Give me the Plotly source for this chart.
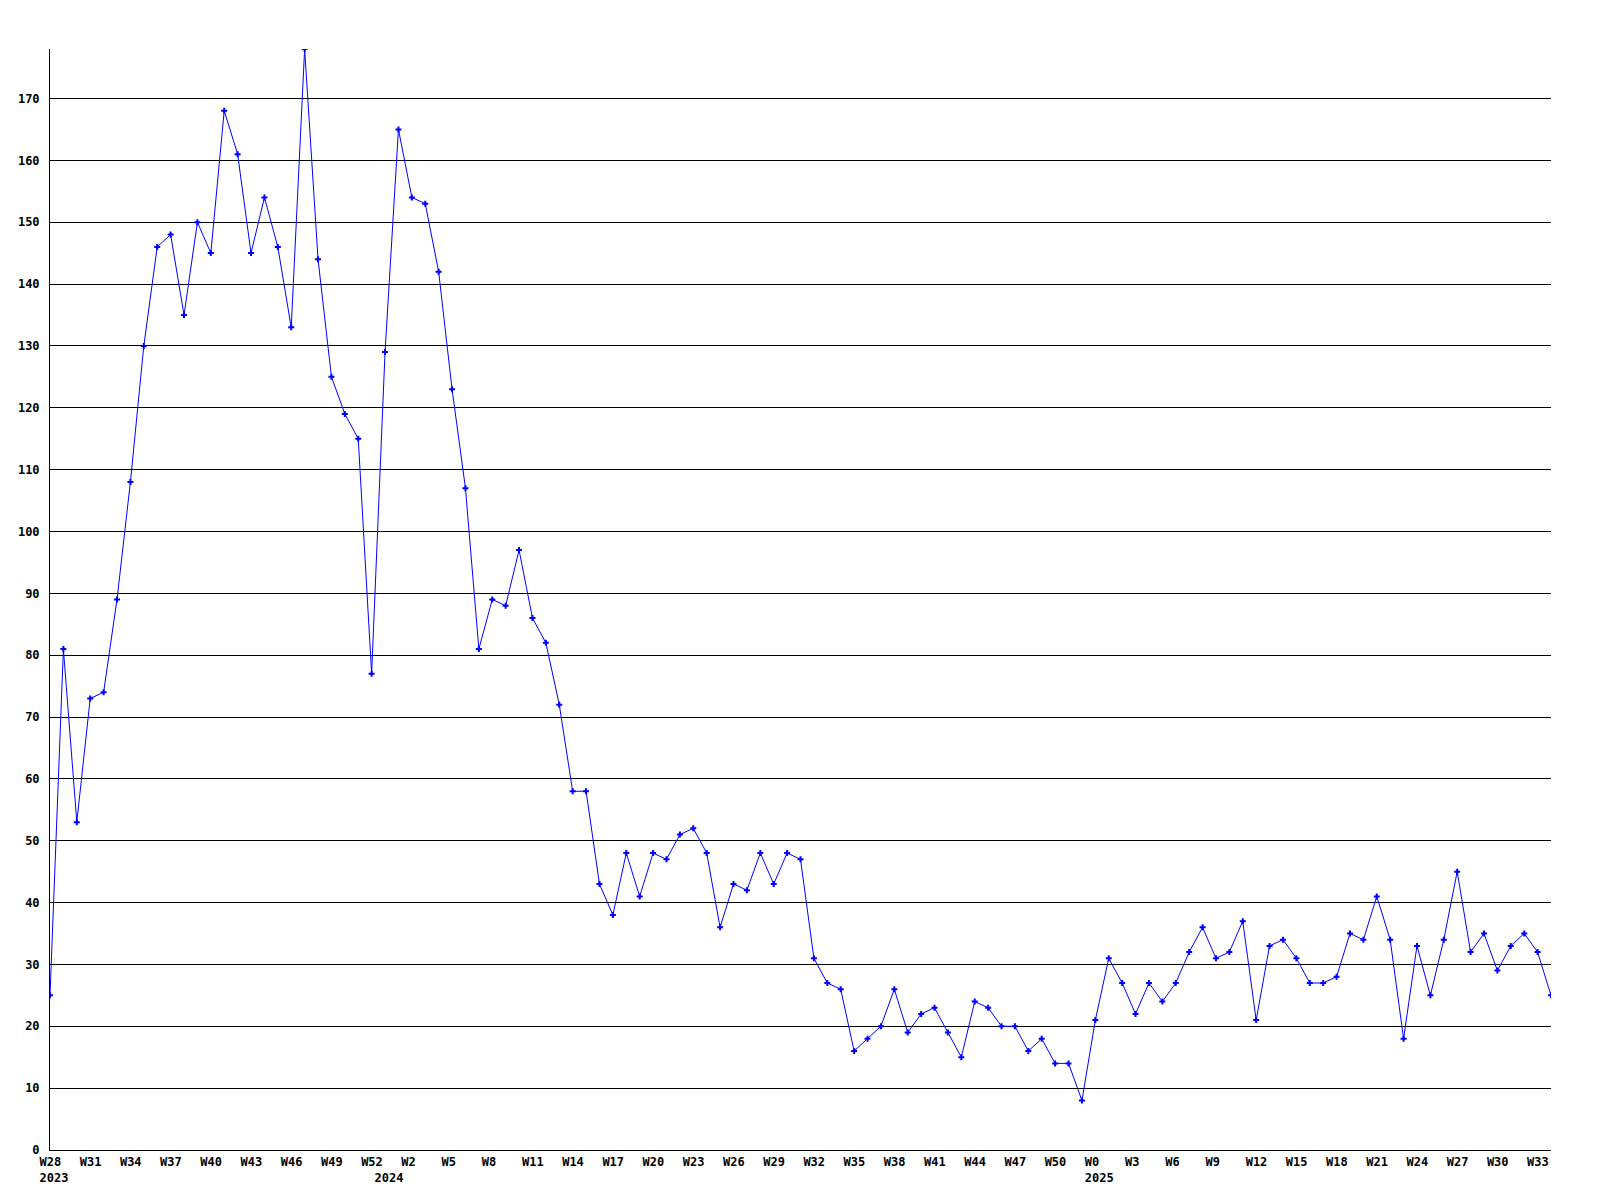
import plotly.graph_objects as go

# Weekly values, W28 2023 .. W34 2025 (one point per week)
values = [25, 81, 53, 73, 74, 89, 108, 130, 146, 148, 135, 150, 145, 168, 161, 145,
          154, 146, 133, 178, 144, 125, 119, 115, 77, 129, 165, 154, 153, 142, 123,
          107, 81, 89, 88, 97, 86, 82, 72, 58, 58, 43, 38, 48, 41, 48, 47, 51, 52,
          48, 36, 43, 42, 48, 43, 48, 47, 31, 27, 26, 16, 18, 20, 26, 19, 22, 23,
          19, 15, 24, 23, 20, 20, 16, 18, 14, 14, 8, 21, 31, 27, 22, 27, 24, 27,
          32, 36, 31, 32, 37, 21, 33, 34, 31, 27, 27, 28, 35, 34, 41, 34, 18, 33,
          25, 34, 45, 32, 35, 29, 33, 35, 32, 25]

week_labels = ["W28", "W31", "W34", "W37", "W40", "W43", "W46", "W49", "W52", "W2",
               "W5", "W8", "W11", "W14", "W17", "W20", "W23", "W26", "W29", "W32",
               "W35", "W38", "W41", "W44", "W47", "W50", "W0", "W3", "W6", "W9",
               "W12", "W15", "W18", "W21", "W24", "W27", "W30", "W33"]
week_label_index = list(range(0, 112, 3))

year_labels = ["2023", "2024", "2025"]
year_label_index = [0, 25, 78]

x = list(range(len(values)))

# Build tick values/texts (week label on first line, year on second line)
ticks = {}
for i, t in zip(week_label_index, week_labels):
    ticks[i] = [t, None]
for i, yl in zip(year_label_index, year_labels):
    if i in ticks:
        ticks[i][1] = yl
    else:
        ticks[i] = [" ", yl]
tickvals = sorted(ticks)
ticktext = [ticks[v][0] + ("<br>" + ticks[v][1] if ticks[v][1] else "") for v in tickvals]

tfont = dict(family="DejaVu Sans Mono", size=12, color="black", weight="bold")

fig = go.Figure()
fig.add_trace(go.Scatter(
    x=x, y=values, mode="lines+markers",
    line=dict(color="#0000FF", width=1),
    marker=dict(symbol="cross", size=5, color="#0000FF"),
    hoverinfo="x+y",
))

fig.update_layout(
    width=1592, height=1192,
    margin=dict(l=42, r=49, t=41, b=50, pad=0, autoexpand=False),
    paper_bgcolor="white", plot_bgcolor="white",
    showlegend=False,
    font=dict(family="DejaVu Sans Mono", size=12, color="black"),
)
fig.update_xaxes(
    range=[0, len(values) - 1],
    tickvals=tickvals, ticktext=ticktext,
    showgrid=False, zeroline=False,
    showline=True, linecolor="black", linewidth=1,
    ticks="", tickangle=0, automargin=False,
    ticklabelposition="outside right", ticklabelshift=-11,
    ticklabelstandoff=1,
    tickfont=tfont,
)
fig.update_yaxes(
    range=[0, 178], dtick=10, tick0=0,
    showgrid=True, gridcolor="black", gridwidth=1,
    zeroline=False, automargin=False,
    showline=True, linecolor="black", linewidth=1,
    ticks="", ticklabelstandoff=7,
    tickfont=tfont,
)

fig.write_html("out.html")
